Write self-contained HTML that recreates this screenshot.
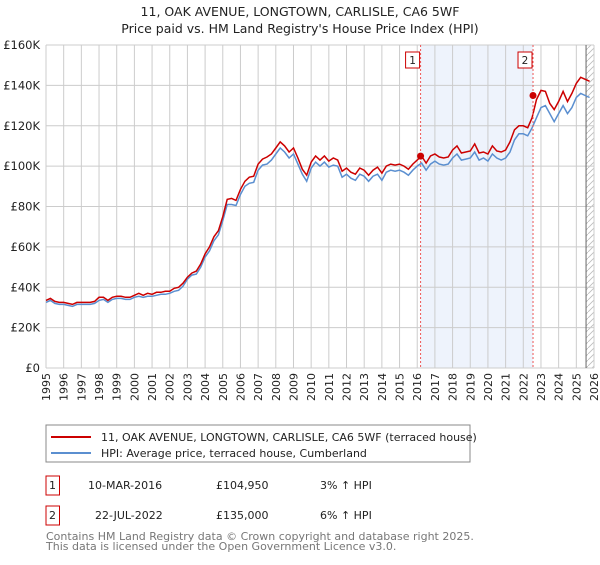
<!DOCTYPE html>
<html><head><meta charset="utf-8"><style>
body{margin:0;background:#fff;font-family:"Liberation Sans","DejaVu Sans",sans-serif;}
svg text{font-family:"DejaVu Sans","Liberation Sans",sans-serif;}
</style></head><body>
<svg id="c" width="600" height="560" xmlns="http://www.w3.org/2000/svg">
<text x="300" y="16" text-anchor="middle" font-size="12.5" fill="#222">11, OAK AVENUE, LONGTOWN, CARLISLE, CA6 5WF</text>
<text x="300" y="33" text-anchor="middle" font-size="12.5" fill="#222">Price paid vs. HM Land Registry's House Price Index (HPI)</text>
<g id="plot"></g>
<g>
<rect x="46" y="425" width="424" height="37" fill="#fff" stroke="#888"/>
<line x1="51" y1="437" x2="91" y2="437" stroke="#cc0000" stroke-width="2"/>
<text x="101" y="441" font-size="11" fill="#222">11, OAK AVENUE, LONGTOWN, CARLISLE, CA6 5WF (terraced house)</text>
<line x1="51" y1="453" x2="91" y2="453" stroke="#5b8fd0" stroke-width="2"/>
<text x="101" y="457" font-size="11" fill="#222">HPI: Average price, terraced house, Cumberland</text>
</g>
<g>
<rect x="46" y="476" width="13.5" height="19" fill="#fff" stroke="#cc0000"/>
<text x="52.5" y="489" text-anchor="middle" font-size="11" fill="#222">1</text>
<text x="88" y="489" font-size="11" fill="#222">10-MAR-2016</text>
<text x="216" y="489" font-size="11" fill="#222">£104,950</text>
<text x="320" y="489" font-size="11" fill="#222">3% ↑ HPI</text>
<rect x="46" y="506" width="13.5" height="19" fill="#fff" stroke="#cc0000"/>
<text x="52.5" y="519" text-anchor="middle" font-size="11" fill="#222">2</text>
<text x="95" y="519" font-size="11" fill="#222">22-JUL-2022</text>
<text x="216" y="519" font-size="11" fill="#222">£135,000</text>
<text x="320" y="519" font-size="11" fill="#222">6% ↑ HPI</text>
</g>
<text x="46" y="540" font-size="11" fill="#777">Contains HM Land Registry data © Crown copyright and database right 2025.</text>
<text x="46" y="550" font-size="11" fill="#777">This data is licensed under the Open Government Licence v3.0.</text>
</svg>
<script>
const years=[1995,1996,1997,1998,1999,2000,2001,2002,2003,2004,2005,2006,2007,2008,2009,2010,2011,2012,2013,2014,2015,2016,2017,2018,2019,2020,2021,2022,2023,2024,2025,2026];
const yTicks=[0,20000,40000,60000,80000,100000,120000,140000,160000];
const yTickLabels=["£0","£20K","£40K","£60K","£80K","£100K","£120K","£140K","£160K"];
const hpiStart=1995;
const hpiValues=[32.5,33.5,32,31.5,31.5,31,30.5,31.5,31.5,31.5,31.5,32,33.5,34,32.5,34,34.5,34.5,34,34,35,35.5,35,35.5,35.5,36,36.5,36.5,37,38,38.5,40.5,44,46,46.5,50,55,58,63,66,73,81,81,80.5,86,90,91.5,92,98,100.5,101,103,106,109,107,104,106,101,96,92.5,99,102,100,102,99.5,100.5,100,94.5,96,94,93,96,95,92.5,95,96,93,97,98,97.5,98,97,95.5,98,100,101.5,98,101,102.5,101,100.5,101,104,106,103,103.5,104,107,103,104,102.5,106,104,103,104,107,113,116,116,115,119,124,129,130,126,122,126,130,126,129,134,136,135,134];
const priceValues=[33.5,34.5,33,32.5,32.5,32,31.5,32.5,32.5,32.5,32.5,33,35,35,33.5,35,35.5,35.5,35,35,36,37,36,37,36.5,37.5,37.5,38,38,39.5,40,42,45,47,48,51.5,56.5,60,65,68,75,83.5,84,83,88.5,92.5,94.5,95,101,103.5,104.5,106,109,112,110,107,109,104,98.5,95.5,102,105,103,105,102.5,104,103,97.5,99,97,96,99,98,95.5,98,99.5,96.5,100,101,100.5,101,100,98.5,101,103,105,101.5,105,106,104.5,104,104.5,108,110,106.5,107,107.5,111,106.5,107,106,110,107.5,107,108,112,118,120,120,119,124,133,137.5,137,131,128,132,137,132,136,141,144,143,142];
const sales=[[2016.19,104950],[2022.55,135000]];
const x0=46,x1=594,yTop=45,yBot=368;
const X=t=>x0+(t-1995)/(2026-1995)*(x1-x0);
const Y=v=>yBot-v/160000*(yBot-yTop);
const ns="http://www.w3.org/2000/svg";
const g=document.getElementById('plot');
function mk(tag,attrs,parent){const e=document.createElementNS(ns,tag);for(const k in attrs)e.setAttribute(k,attrs[k]);(parent||g).appendChild(e);return e;}
let e=mk('rect',{x:X(sales[0][0]),y:yTop,width:X(sales[1][0])-X(sales[0][0]),height:yBot-yTop,fill:'#eef3fc'});


const defs=mk('defs',{});
const pat=mk('pattern',{id:'h',width:6,height:6,patternUnits:'userSpaceOnUse'},defs);
mk('path',{d:'M0,6 L6,0',stroke:'#bbb','stroke-width':0.8},pat);
e=mk('rect',{x:X(2025.55),y:yTop,width:x1-X(2025.55),height:yBot-yTop,fill:'url(#h)'});


years.forEach(yr=>{
 let l=mk('line',{x1:X(yr),x2:X(yr),y1:yTop,y2:yBot,stroke:'#ccc','stroke-width':1});
 
 
 let t=mk('text',{x:0,y:0,'font-size':11,fill:'#222','text-anchor':'end',transform:`translate(${X(yr)+4},${yBot+5}) rotate(-90)`});
 t.textContent=yr;
 
 
});
yTicks.forEach((v,i)=>{
 let l=mk('line',{x1:x0,x2:x1,y1:Y(v),y2:Y(v),stroke:'#ccc','stroke-width':1});
 
 
 let t=mk('text',{x:40,y:Y(v)+4,'font-size':11.5,fill:'#222','text-anchor':'end'});
 t.textContent=yTickLabels[i];
 
 
});
mk('line',{x1:X(2025.55),x2:X(2025.55),y1:yTop,y2:yBot,stroke:'#666','stroke-width':1});
function path(vals){return vals.map((v,i)=>(i?'L':'M')+X(hpiStart+i/4).toFixed(1)+','+Y(v*1000).toFixed(1)).join(' ');}
e=mk('path',{d:path(hpiValues),fill:'none',stroke:'#5b8fd0','stroke-width':1.5});


e=mk('path',{d:path(priceValues),fill:'none',stroke:'#cc0000','stroke-width':1.5});


sales.forEach((s,i)=>{
 let l=mk('line',{x1:X(s[0]),x2:X(s[0]),y1:yTop,y2:yBot,stroke:'#e55','stroke-width':1,'stroke-dasharray':'2,2'});
 
 
 let c=mk('circle',{cx:X(s[0]),cy:Y(s[1]),r:3.5,fill:'#cc0000'});
 
 
 let r=mk('rect',{x:X(s[0])-15,y:52,width:14,height:16,fill:'#fff',stroke:'#cc0000'});
 
 
 let t=mk('text',{x:X(s[0])-8,y:64,'font-size':10.5,fill:'#222','text-anchor':'middle'});
 t.textContent=String(i+1);
 
 
});
</script>
</body></html>
